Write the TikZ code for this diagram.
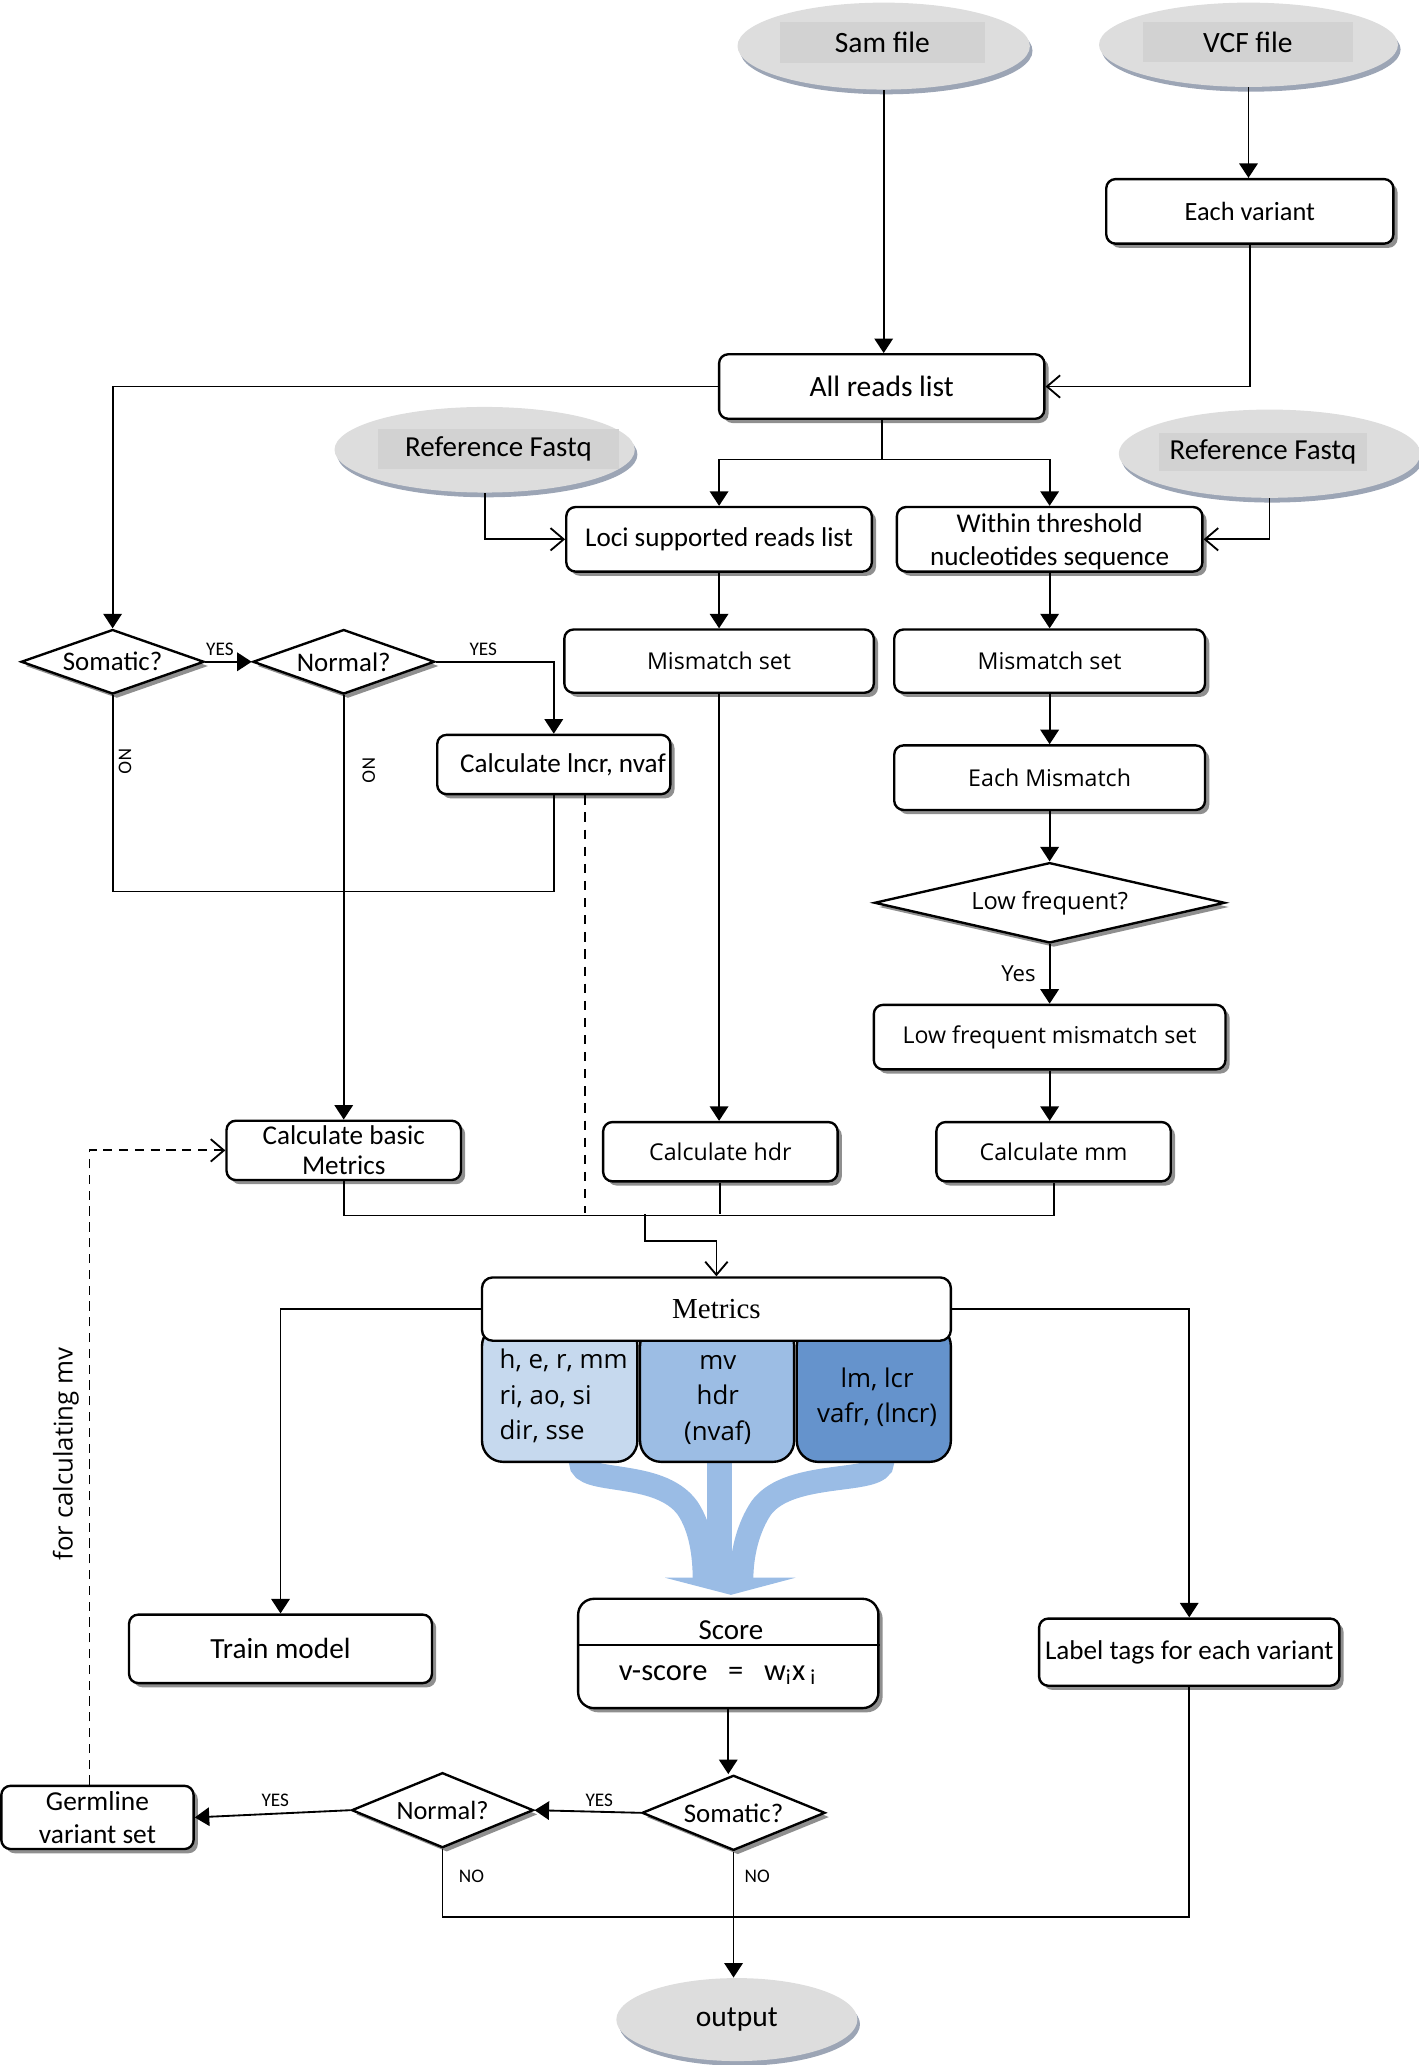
\documentclass[tikz,border=0pt]{standalone}
\usepackage{fontspec}
\setmainfont{Carlito}
\newfontfamily\seg{Open Sans}
\newfontfamily\tms{Liberation Serif}
\usetikzlibrary{shapes.geometric,arrows.meta,shadows,calc}
\definecolor{ovalgray}{HTML}{DDDDDD}
\definecolor{ovaltext}{HTML}{D2D2D2}
\definecolor{ovalshadow}{HTML}{9CA5B5}
\definecolor{mA}{HTML}{C6D9EE}
\definecolor{mB}{HTML}{9CBDE4}
\definecolor{mC}{HTML}{6593CC}
\definecolor{fan}{HTML}{9ABCE5}
\newcommand\fs[2]{\fontsize{#1}{#2}\selectfont}
\tikzset{
  shd/.style={drop shadow={shadow xshift=1.6pt,shadow yshift=-1.6pt,fill=black!55,opacity=0.8}},
  box/.style={draw, rounded corners=3.5pt, fill=white, line width=0.9pt, shd, inner sep=0pt, align=center, font=\fs{10.3}{12.5}},
  sg/.style={font=\seg\fs{8.8}{10.5}},
  dia/.style={draw, diamond, fill=white, line width=0.9pt, inner sep=0pt, shape aspect=2.8, shd, font=\fs{10.2}{12}},
  oval/.style={ellipse, fill=ovalgray, inner sep=0pt, drop shadow={shadow xshift=1pt,shadow yshift=-1.8pt,fill=ovalshadow,opacity=1}},
  ovaltxt/.style={fill=ovaltext, inner sep=0pt, font=\fs{11}{13}},
  ln/.style={line width=0.7pt},
  arr/.style={ln, -{Triangle[length=5.5pt,width=7pt]}},
  oarr/.style={ln, -{Straight Barb[length=5pt,width=8.5pt]}},
  lab/.style={inner sep=0pt, font=\fs{7.3}{8}},
  sub/.style={draw, rounded corners=8pt, line width=0.9pt, inner sep=0pt}
}
\begin{document}
\begin{tikzpicture}[x=0.5pt,y=-0.5pt]
\useasboundingbox (0,0) rectangle (1077,1568);

% ---------- ovals
\node[oval, minimum width=111pt, minimum height=33pt] (sam) at (671,35) {};
\node[ovaltxt, minimum width=78pt, minimum height=15.5pt, font=\fs{11.2}{13}] (samt) at (670,32.5) {Sam file};
\node[oval, minimum width=113.5pt, minimum height=32pt] (vcf) at (948,34) {};
\node[ovaltxt, minimum width=79.5pt, minimum height=15pt, font=\fs{11.2}{13}] (vcft) at (947.5,32) {VCF file};
\node[oval, minimum width=114pt, minimum height=32.5pt] (ref1) at (368,341.5) {};
\node[ovaltxt, minimum width=91.5pt, minimum height=15pt] (ref1t) at (378.5,341) {Reference Fastq};
\node[oval, minimum width=114.5pt, minimum height=33.5pt] (ref2) at (964,344.5) {};
\node[ovaltxt, minimum width=79pt, minimum height=14.5pt] (ref2t) at (959,343.5) {Reference Fastq};
\node[oval, minimum width=91.5pt, minimum height=31.5pt, font=\fs{11.2}{13}] (output) at (559.5,1533.5) {output};

% ---------- boxes
\node[box, minimum width=109pt, minimum height=24.5pt, font=\fs{10}{12}] (eachvar) at (949,160.5) {Each variant};
\node[box, minimum width=123.5pt, minimum height=24.5pt, font=\fs{11.2}{13}] (allreads) at (669.5,293.5) {All reads list};
\node[box, minimum width=116pt, minimum height=24.5pt] (loci) at (546,409.5) {Loci supported reads list};
\node[box, minimum width=116pt, minimum height=24.5pt] (within) at (797,409.5) {\rule{0pt}{9pt}Within threshold\\nucleotides sequence};
\node[box, sg, minimum width=117.5pt, minimum height=24pt] (mm1) at (546,502) {Mismatch set};
\node[box, sg, minimum width=118pt, minimum height=24pt] (mm2) at (797,502) {Mismatch set};
\node[dia, minimum width=69.5pt, minimum height=24.5pt] (som1) at (85.5,502.5) {Somatic?};
\node[dia, minimum width=69pt, minimum height=24.5pt] (nor1) at (261,502.5) {Normal?};
\node[box, minimum width=88.5pt, minimum height=22.5pt] (calcl) at (420.5,580.5) {\hspace*{7pt}Calculate lncr, nvaf};
\node[box, sg, minimum width=118pt, minimum height=24.5pt] (eachmm) at (797,590.5) {Each Mismatch};
\node[dia, sg, shape aspect=4.4, minimum width=133pt, minimum height=30.5pt, font=\seg\fs{9}{10.5}] (lowq) at (797,685.5) {Low frequent?};
\node[box, sg, minimum width=133.5pt, minimum height=24.5pt] (lowset) at (797,787.5) {Low frequent mismatch set};
\node[box, sg, minimum width=89pt, minimum height=22.5pt] (calcmm) at (800,874.5) {Calculate mm};
\node[box, sg, minimum width=89pt, minimum height=22.5pt] (calchdr) at (547,874.5) {Calculate hdr};
\node[box, minimum width=89pt, minimum height=22.5pt, font=\fs{10.3}{11.5}] (calcbasic) at (261,873.5) {Calculate basic\\Metrics};

% ---------- fan arrow
\draw[fan, line width=9.5pt] (546,1100) -- (546,1200);
\draw[fan, line width=9pt] (441,1100) -- (441,1110) .. controls (441,1128) and (500,1115) .. (522,1145) .. controls (532,1160) and (535,1180) .. (535,1200);
\draw[fan, line width=9pt] (670,1100) -- (670,1110) .. controls (670,1128) and (600,1115) .. (578,1145) .. controls (568,1160) and (563,1180) .. (563,1200);
\fill[fan] (505,1198) -- (604,1198) -- (555,1211) -- cycle;

% ---------- metrics block
\node[sub, fill=mA, minimum width=59pt, minimum height=52pt] (mA) at (425,1058) {};
\node[sub, fill=mB, minimum width=58.5pt, minimum height=52pt] (mB) at (544.5,1058) {};
\node[sub, fill=mC, minimum width=58.5pt, minimum height=52pt] (mC) at (663.5,1058) {};
\node[draw, rounded corners=4pt, fill=white, line width=0.9pt, minimum width=178pt, minimum height=24pt, inner sep=0pt, font=\tms\fs{11}{13}] (metrics) at (544,994) {Metrics};
\node[anchor=west, align=left, inner sep=0pt, font=\seg\fs{9.8}{13.5}] (tA) at (379,1060) {h, e, r, mm\\ri, ao, si\\dir, sse};
\node[align=center, inner sep=0pt, font=\seg\fs{9.8}{13.5}] (tB) at (545,1063) {mv\\hdr\\(nvaf)};
\node[align=center, inner sep=0pt, font=\seg\fs{9.8}{13.5}] (tC) at (666,1061) {lm, lcr\\vafr, (lncr)};

% ---------- lower boxes
\node[box, rounded corners=6pt, minimum width=114pt, minimum height=41.5pt] (score) at (553,1255.5) {};
\draw[ln] ($(score.west)+(0,-6.5)$) -- ($(score.east)+(0,-6.5)$);
\node[inner sep=0pt, font=\fs{11}{12}] (scoret) at (555,1238) {Score};
\node[inner sep=0pt, font=\fs{11.6}{13}] (vscore) at (545,1272) {v-score~~~=~~~w\textsubscript{i}x\,\textsubscript{i}};
\node[box, minimum width=115pt, minimum height=26pt, font=\fs{11.1}{13}] (train) at (213,1252) {Train model};
\node[box, minimum width=114pt, minimum height=25.5pt] (label) at (903,1254.5) {Label tags for each variant};
\node[dia, minimum width=69.5pt, minimum height=28.5pt] (som2) at (557,1376.5) {Somatic?};
\node[dia, minimum width=69pt, minimum height=28.5pt, font=\fs{10}{12}] (nor2) at (336,1374.5) {Normal?};
\node[box, minimum width=73pt, minimum height=24pt, font=\fs{10.4}{12.5}] (germ) at (74,1380) {Germline\\variant set};

% ---------- connectors
\draw[arr] (sam.south) -- (sam.south |- allreads.north);
\draw[arr] (vcf.south) -- (vcf.south |- eachvar.north);
\draw[oarr] (eachvar.south) |- (allreads.east);
\draw[arr] (allreads.west) -| (som1.north);
\draw[ln] (allreads.south) -- ++(0,30) coordinate (split);
\draw[arr] (split) -| (loci.north);
\draw[arr] (split) -| (within.north);
\draw[oarr] (ref1.south) |- (loci.west);
\draw[oarr] (ref2.south) |- (within.east);
\draw[arr] (loci.south) -- (mm1.north);
\draw[arr] (within.south) -- (mm2.north);
\draw[arr] (mm2.south) -- (eachmm.north);
\draw[arr] (eachmm.south) -- (lowq.north);
\draw[arr] (lowq.south) -- node[left=5pt, inner sep=0pt, font=\seg\fs{8.4}{10}] (yeslab) {Yes} (lowset.north);
\draw[arr] (lowset.south) -- (lowset.south |- calcmm.north);
\draw[arr] (mm1.south) -- (mm1.south |- calchdr.north);
\draw[arr] (som1.east) -- (nor1.west);
\node[lab] (y1) at (167,493) {YES};
\draw[arr] (nor1.east) -| (calcl.north);
\node[lab] (y2) at (367,493) {YES};
\draw[ln] (som1.south) -- ++(0,149) -| (calcl.south);
\node[lab, rotate=-90] (n1) at (95,578) {NO};
\draw[arr] (nor1.south) -- (calcbasic.north);
\node[lab, rotate=-90] (n2) at (280,585) {NO};
\coordinate (dashtop) at ($(calcl.south)+(23.5,0)$);
\draw[ln, dash pattern=on 3.5pt off 3pt] (dashtop) -- ++(0,317);
\coordinate (merge) at (490,922);
\draw[ln] (calcbasic.south) -- ++(0,26) -| (calcmm.south);
\draw[ln] (calchdr.south) -- (calchdr.south |- merge);
\draw[oarr] (merge) -- ++(0,20) -| (metrics.north);
\draw[arr] (metrics.west) -| (train.north);
\draw[arr] (metrics.east) -| (label.north);
\draw[arr] (score.south) -- (score.south |- som2.north);
\draw[arr] (som2.west) -- (nor2.east);
\node[lab] (y3) at (455,1367) {YES};
\draw[arr] (nor2.west) -- (germ.east);
\node[lab] (y4) at (209,1367) {YES};
\draw[ln] (nor2.south) -- ++(0,52) -| (label.south);
\node[lab] (n3) at (358,1425) {NO};
\draw[arr] (som2.south) -- (som2.south |- output.north);
\node[lab] (n4) at (575,1425) {NO};
\draw[ln, dash pattern=on 3.5pt off 2.5pt, -{Straight Barb[length=5pt,width=8.5pt]}] ($(germ.north)+(-6,0)$) |- (calcbasic.west);
\node[rotate=90, inner sep=0pt, font=\seg\fs{9.8}{12}] (mvlab) at (50,1104) {for calculating mv};
\end{tikzpicture}
\end{document}
